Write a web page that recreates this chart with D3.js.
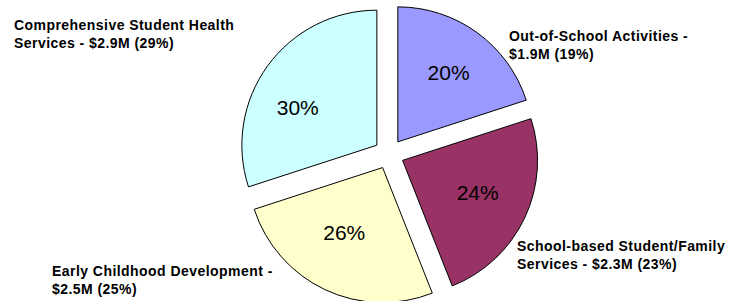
<!DOCTYPE html>
<html>
<head>
<meta charset="utf-8">
<script src="https://cdn.jsdelivr.net/npm/d3@7"></script>
<style>
  html, body { margin: 0; padding: 0; background: #fff; }
  svg { display: block; }
</style>
</head>
<body>
<svg id="chart" width="734" height="301"></svg>
<script>
// program areas, clockwise from 12 o'clock
const categories = [
  'Out-of-School Activities',
  'School-based Student/Family Services',
  'Early Childhood Development',
  'Comprehensive Student Health Services'
];
const amounts = [1.9, 2.3, 2.5, 2.9];           // $M
const sliceShares = [20, 24, 26, 30];            // % used for slice size / inner labels
const labelShares = [19, 23, 25, 29];            // % printed in the outside labels
const labelLines = [
  ['Out-of-School Activities -', '$1.9M (19%)'],
  ['School-based Student/Family', 'Services - $2.3M (23%)'],
  ['Early Childhood Development -', '$2.5M (25%)'],
  ['Comprehensive Student Health', 'Services - $2.9M (29%)']
];
const colors = ['#9999FF', '#993366', '#FFFFCC', '#CCFFFF'];

// outside label anchors (left edge, first baseline)
const labelPos = [
  [509, 41],
  [517, 251],
  [52, 276],
  [14, 30]
];
// small nudges for the % labels inside the slices
const pctNudge = [
  [2, -2],
  [0, -3],
  [-3, -10],
  [-12, 11]
];

const width = 734;
const height = 301;
const cx = 389;
const cy = 154;
const radius = 135;
const explode = 15;
const lineHeight = 18;

const svg = d3.select('#chart').attr('viewBox', [0, 0, width, height]);

const data = categories.map((c, i) => ({
  name: c,
  amount: amounts[i],
  share: sliceShares[i],
  lines: labelLines[i],
  labelShare: labelShares[i],
  color: colors[i],
  pos: labelPos[i],
  nudge: pctNudge[i]
}));

const pie = d3.pie().sort(null).value((d) => d.share);
const arcs = pie(data);

const arc = d3.arc().innerRadius(0).outerRadius(radius);
const labelArc = d3.arc().innerRadius(83).outerRadius(83);

const offset = (d) => {
  const mid = (d.startAngle + d.endAngle) / 2;
  return [Math.sin(mid) * explode, -Math.cos(mid) * explode];
};

const slices = svg
  .append('g')
  .attr('transform', `translate(${cx},${cy})`)
  .selectAll('g')
  .data(arcs)
  .join('g')
  .attr('transform', (d) => `translate(${offset(d)})`);

slices
  .append('path')
  .attr('d', arc)
  .attr('fill', (d) => d.data.color)
  .attr('stroke', '#000')
  .attr('stroke-width', 1)
  .attr('stroke-linejoin', 'miter');

slices
  .append('text')
  .attr('transform', (d) => {
    const [x, y] = labelArc.centroid(d);
    return `translate(${x + d.data.nudge[0]},${y + d.data.nudge[1]})`;
  })
  .attr('text-anchor', 'middle')
  .attr('dy', '0.36em')
  .attr('font-family', 'Arial, "Liberation Sans", sans-serif')
  .attr('font-size', 21)
  .attr('fill', '#000')
  .text((d) => d.data.share + '%');

const labels = svg
  .append('g')
  .attr('font-family', 'Arial, "Liberation Sans", sans-serif')
  .attr('font-size', 14)
  .attr('font-weight', 'bold')
  .attr('letter-spacing', 0.45)
  .attr('fill', '#000')
  .selectAll('text')
  .data(data)
  .join('text')
  .attr('x', (d) => d.pos[0])
  .attr('y', (d) => d.pos[1]);

labels
  .selectAll('tspan')
  .data((d) => d.lines.map((t) => ({ t, x: d.pos[0] })))
  .join('tspan')
  .attr('x', (d) => d.x)
  .attr('dy', (d, i) => (i === 0 ? 0 : lineHeight))
  .text((d) => d.t);
</script>
</body>
</html>
